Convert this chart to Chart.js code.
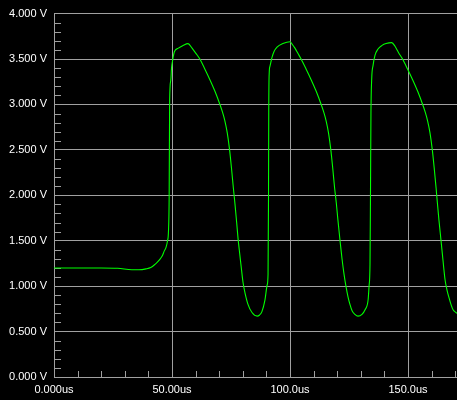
<!DOCTYPE html>
<html><head><meta charset="utf-8">
<script src="https://cdn.jsdelivr.net/npm/chart.js@4.4.0/dist/chart.umd.min.js"></script>
<style>html,body{margin:0;padding:0;background:#000;overflow:hidden;}</style>
</head><body>
<canvas id="c" width="457" height="400"></canvas>
<script>
const timeUs = [0, 10, 20, 27, 33, 36, 39, 41, 42.8, 44, 45, 46, 46.6, 47.5, 48.1, 48.5, 48.8, 49.0, 49.5, 49.8, 50.3, 51.0, 52.7, 54.7,
  56.8, 58.5, 60.2, 61.8, 64.0, 66.1, 68.2, 70.3, 71.4, 72.4, 73.4, 74.4, 75.2, 76.0, 76.7, 77.4, 78.0, 78.5, 79.2, 80.1, 80.9, 82.2, 83.9, 86.1, 87.0, 88.1, 89.4, 90.3, 90.7, 90.9, 91.0, 91.2, 91.5, 92.4, 93.2, 94.5, 97.0,
  100.0, 101.0, 102.1, 103.4, 104.7, 106.9, 109.0, 111.1, 113.2, 114.3, 115.3, 116.3, 117.3, 118.1, 118.9, 119.6, 120.3, 121.2, 122.0, 122.9, 123.7, 124.6, 125.4, 126.3, 127.5, 128.8, 130.5, 131.8, 133.1, 133.5, 133.9, 134.1, 134.3, 134.6, 135.2, 136.0, 137.3, 139.0, 140.7,
  143.1, 144.5, 146.0, 147.7, 149.9, 152.0, 154.1, 156.2, 157.3, 158.3, 159.3, 160.3, 161.1, 161.9, 162.4, 163.1, 164.0, 164.8, 165.7, 166.5, 167.4, 168.2, 169.1, 170.3, 170.8];
const voltage = [1.20, 1.20, 1.20, 1.197, 1.18, 1.18, 1.19, 1.205, 1.24, 1.27, 1.30, 1.34, 1.38, 1.43, 1.50, 1.60, 2.00, 3.05, 3.27, 3.40, 3.49, 3.58, 3.62, 3.65,
  3.67, 3.62, 3.56, 3.50, 3.385, 3.27, 3.145, 3.00, 2.915, 2.82, 2.69, 2.50, 2.30, 2.08, 1.90, 1.70, 1.52, 1.40, 1.24, 1.04, 0.93, 0.80, 0.71, 0.67, 0.68, 0.72, 0.85, 1.01, 1.13, 2.00, 2.94, 3.35, 3.42, 3.52, 3.58, 3.63, 3.67,
  3.69, 3.66, 3.62, 3.56, 3.50, 3.385, 3.27, 3.145, 3.00, 2.915, 2.82, 2.69, 2.50, 2.30, 2.08, 1.92, 1.73, 1.50, 1.31, 1.13, 1.00, 0.88, 0.80, 0.73, 0.69, 0.67, 0.69, 0.74, 0.85, 1.00, 1.24, 2.00, 2.90, 3.27, 3.43, 3.54, 3.61, 3.65, 3.67,
  3.68, 3.64, 3.57, 3.50, 3.385, 3.27, 3.145, 3.00, 2.915, 2.82, 2.69, 2.50, 2.30, 2.08, 1.93, 1.73, 1.50, 1.29, 1.07, 0.96, 0.87, 0.80, 0.74, 0.71, 0.70];
const xTickValues = [0, 50, 100, 150];
const xTickLabels = ['0.000us', '50.00us', '100.0us', '150.0us'];
const yTickValues = [0, 0.5, 1, 1.5, 2, 2.5, 3, 3.5, 4];
const yTickLabels = ['0.000 V', '0.500 V', '1.000 V', '1.500 V', '2.000 V', '2.500 V', '3.000 V', '3.500 V', '4.000 V'];
const xMin = 0, xMax = 170.76, yMin = 0, yMax = 4;
const xMinorStep = 10, yMinorStep = 0.1;

const gridColor = '#a0a0a0';
const font = { family: 'Liberation Sans, Arial, sans-serif', size: 11 };

const bgPlugin = {
  id: 'bg',
  beforeDraw(chart) {
    const ctx = chart.ctx;
    ctx.save(); ctx.fillStyle = '#000'; ctx.fillRect(0, 0, chart.width, chart.height); ctx.restore();
  }
};
const minorTicks = {
  id: 'minorTicks',
  beforeDatasetsDraw(chart) {
    const ctx = chart.ctx, xs = chart.scales.x, ys = chart.scales.y, a = chart.chartArea;
    ctx.save(); ctx.strokeStyle = gridColor; ctx.lineWidth = 1; ctx.beginPath();
    for (let i = 1; i * xMinorStep < xs.max; i++) {
      if (i % 5 === 0) continue;
      const px = Math.round(xs.getPixelForValue(i * xMinorStep)) + 0.5;
      ctx.moveTo(px, a.bottom); ctx.lineTo(px, a.bottom - 6);
    }
    for (let i = 1; i * yMinorStep < ys.max - 1e-9; i++) {
      if (i % 5 === 0) continue;
      const py = Math.round(ys.getPixelForValue(i * yMinorStep)) + 0.5;
      ctx.moveTo(a.left, py); ctx.lineTo(a.left + 7, py);
    }
    ctx.stroke(); ctx.restore();
  }
};

new Chart(document.getElementById('c'), {
  type: 'line',
  data: {
    datasets: [{
      data: timeUs.map((t, i) => ({ x: t, y: voltage[i] })),
      borderColor: '#00ff00',
      borderWidth: 1.1,
      pointRadius: 0,
      cubicInterpolationMode: 'monotone',
      fill: false
    }]
  },
  options: {
    responsive: false,
    animation: false,
    events: [],
    layout: { padding: { top: 13, right: 0, left: 0, bottom: 0 } },
    plugins: { legend: { display: false }, tooltip: { enabled: false } },
    scales: {
      x: {
        type: 'linear', min: xMin, max: xMax,
        afterBuildTicks: s => { s.ticks = xTickValues.map(v => ({ value: v })); },
        afterFit: s => { s.height = 23; },
        ticks: { color: '#fff', font, padding: 6, autoSkip: false, maxRotation: 0, callback: (v, i) => xTickLabels[i] },
        grid: { color: gridColor, lineWidth: 1, drawTicks: false },
        border: { color: gridColor, width: 1 }
      },
      y: {
        type: 'linear', min: yMin, max: yMax,
        afterBuildTicks: s => { s.ticks = yTickValues.map(v => ({ value: v })); },
        afterFit: s => { s.width = 54; },
        ticks: { color: '#fff', font, padding: 7, callback: (v, i) => yTickLabels[i] },
        grid: { color: gridColor, lineWidth: 1, drawTicks: false },
        border: { color: gridColor, width: 1 }
      }
    }
  },
  plugins: [bgPlugin, minorTicks]
});
</script>
</body></html>
